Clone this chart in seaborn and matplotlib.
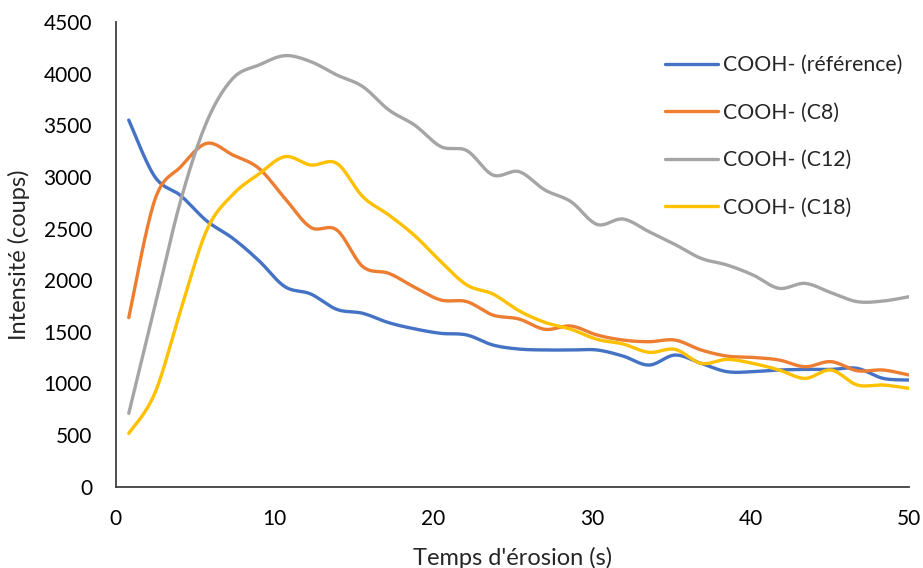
import numpy as np
import pandas as pd
import seaborn as sns
import matplotlib
matplotlib.use("Agg")
import matplotlib.pyplot as plt

# temps d'erosion (s) : one point every ~1.64 s
temps = [0.82, 2.46, 4.10, 5.74, 7.38, 9.02, 10.66, 12.29, 13.93, 15.57,
         17.21, 18.85, 20.49, 22.13, 23.77, 25.41, 27.05, 28.69, 30.33, 31.97,
         33.61, 35.25, 36.89, 38.52, 40.16, 41.80, 43.44, 45.08, 46.72, 48.36, 50.00]

reference = [3550, 3002, 2818, 2573, 2405, 2189, 1937, 1866, 1717, 1679,
             1588, 1528, 1485, 1469, 1372, 1333, 1324, 1324, 1324, 1265,
             1178, 1275, 1194, 1114, 1114, 1130, 1136, 1136, 1146, 1049, 1033]
c8 = [1637, 2776, 3099, 3325, 3212, 3083, 2792, 2511, 2486, 2131,
      2066, 1930, 1808, 1792, 1662, 1624, 1524, 1556, 1469, 1420,
      1404, 1420, 1324, 1265, 1252, 1227, 1162, 1211, 1123, 1130, 1081]
c12 = [710, 1743, 2776, 3535, 3954, 4083, 4174, 4116, 3987, 3874,
       3648, 3500, 3293, 3254, 3018, 3051, 2873, 2760, 2540, 2592,
       2469, 2345, 2211, 2147, 2050, 1921, 1969, 1879, 1792, 1798, 1840]
c18 = [516, 904, 1711, 2486, 2830, 3028, 3196, 3115, 3131, 2808,
       2631, 2430, 2179, 1953, 1866, 1704, 1591, 1524, 1427, 1382,
       1301, 1330, 1194, 1233, 1194, 1130, 1049, 1130, 985, 985, 952]

labels = ["COOH- (référence)", "COOH- (C8)", "COOH- (C12)", "COOH- (C18)"]
colors = ["#4472C4", "#ED7D31", "#A5A5A5", "#FFC000"]


def smooth(x, y, n=20):
    # excel-like smoothed line (bezier through the points, 1/6 tangents)
    x = np.asarray(x, float)
    y = np.asarray(y, float)
    px = np.concatenate([[x[0]], x, [x[-1]]])
    py = np.concatenate([[y[0]], y, [y[-1]]])
    t = np.linspace(0, 1, n, endpoint=False)
    xs, ys = [], []
    for i in range(1, len(px) - 2):
        p0x, p0y = px[i], py[i]
        p3x, p3y = px[i + 1], py[i + 1]
        p1x = p0x + (px[i + 1] - px[i - 1]) / 6
        p1y = p0y + (py[i + 1] - py[i - 1]) / 6
        p2x = p3x - (px[i + 2] - px[i]) / 6
        p2y = p3y - (py[i + 2] - py[i]) / 6
        b0 = (1 - t) ** 3
        b1 = 3 * (1 - t) ** 2 * t
        b2 = 3 * (1 - t) * t ** 2
        b3 = t ** 3
        xs.extend(b0 * p0x + b1 * p1x + b2 * p2x + b3 * p3x)
        ys.extend(b0 * p0y + b1 * p1y + b2 * p2y + b3 * p3y)
    xs.append(x[-1])
    ys.append(y[-1])
    return np.array(xs), np.array(ys)


sns.set_style("white")
plt.rcParams["font.family"] = ["Lato", "DejaVu Sans"]

fig = plt.figure(figsize=(9.23, 5.68), dpi=100)
ax = fig.add_axes([0.1254, 0.1431, 0.8596, 0.8182])

for serie, lab, col in zip([reference, c8, c12, c18], labels, colors):
    sx, sy = smooth(temps, serie)
    df = pd.DataFrame({"t": sx, "v": sy})
    sns.lineplot(data=df, x="t", y="v", ax=ax, color=col, linewidth=2.4,
                 label=lab, sort=False, estimator=None)

ax.set_xlim(0, 50)
ax.set_ylim(0, 4500)
ax.set_xticks(range(0, 51, 10))
ax.set_yticks(range(0, 4501, 500))
ax.tick_params(axis="both", length=0, labelsize=15, colors="black")
ax.tick_params(axis="x", pad=16)
ax.tick_params(axis="y", pad=17)

for s in ["top", "right"]:
    ax.spines[s].set_visible(False)
for s in ["left", "bottom"]:
    ax.spines[s].set_color("#404040")
    ax.spines[s].set_linewidth(1.3)

ax.set_xlabel("Temps d'érosion (s)", fontsize=17, labelpad=13)
ax.set_ylabel("Intensité (coups)", fontsize=17, labelpad=10)

ax.legend(loc="upper left", bbox_to_anchor=(665 / 923, 1 - 55 / 568),
          bbox_transform=fig.transFigure, frameon=False, fontsize=15.3,
          handlelength=2.5, handletextpad=0.25, labelspacing=1.3,
          borderpad=0, borderaxespad=0)

fig.savefig("out.png", dpi=100)
